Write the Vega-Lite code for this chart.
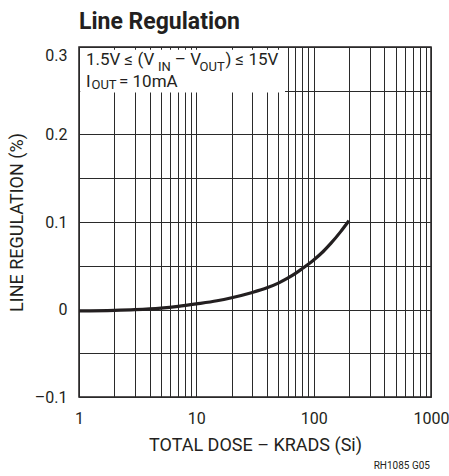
{
  "$schema": "https://vega.github.io/schema/vega-lite/v6.json",
  "autosize": "none",
  "width": 352,
  "height": 350,
  "padding": {"left": 79, "top": 47, "right": 18, "bottom": 79},
  "background": "white",
  "title": {
    "text": "Line Regulation",
    "anchor": "start",
    "frame": "group",
    "font": "Roboto",
    "fontSize": 23,
    "fontWeight": "bold",
    "color": "#231f20",
    "offset": 13
  },
  "config": {
    "view": {"stroke": "#231f20", "strokeWidth": 1.5},
    "font": "Roboto",
    "axis": {
      "domain": false,
      "ticks": false,
      "grid": true,
      "gridColor": "#2a2a2a",
      "gridWidth": 1,
      "labelFont": "Roboto",
      "labelFontSize": 16,
      "labelColor": "#231f20",
      "titleFont": "Roboto",
      "titleFontSize": 18,
      "titleFontWeight": "normal",
      "titleColor": "#231f20"
    }
  },
  "datasets": {
    "curve": [
      {"dose": 1, "reg": -0.0016},
      {"dose": 2, "reg": -0.001},
      {"dose": 3, "reg": -0.0002},
      {"dose": 5, "reg": 0.0016},
      {"dose": 7, "reg": 0.0036},
      {"dose": 10, "reg": 0.0064},
      {"dose": 15, "reg": 0.01},
      {"dose": 20, "reg": 0.0135},
      {"dose": 30, "reg": 0.0195},
      {"dose": 40, "reg": 0.0248},
      {"dose": 50, "reg": 0.0302},
      {"dose": 60, "reg": 0.0358},
      {"dose": 70, "reg": 0.0413},
      {"dose": 80, "reg": 0.0468},
      {"dose": 90, "reg": 0.0518},
      {"dose": 100, "reg": 0.0566},
      {"dose": 120, "reg": 0.066},
      {"dose": 140, "reg": 0.0755},
      {"dose": 170, "reg": 0.089},
      {"dose": 200, "reg": 0.1015}
    ],
    "box": [
      {"dose": 1.025, "dose2": 57, "reg": 0.248, "reg2": 0.2968}
    ],
    "main": [
      {"dose": 1.147, "reg": 0.2789, "label": "1.5V ≤ (V"},
      {"dose": 6.55, "reg": 0.2789, "label": "– V"},
      {"dose": 17.7, "reg": 0.2789, "label": ") ≤ 15V"},
      {"dose": 1.147, "reg": 0.2546, "label": "I"},
      {"dose": 2.193, "reg": 0.2546, "label": "= 10mA"}
    ],
    "sub": [
      {"dose": 4.72, "reg": 0.2726, "label": "IN"},
      {"dose": 10.65, "reg": 0.2726, "label": "OUT"},
      {"dose": 1.278, "reg": 0.2523, "label": "OUT"}
    ],
    "note": [
      {"dose": 980, "reg": -0.1826, "label": "RH1085 G05"}
    ]
  },
  "layer": [
    {
      "data": {"name": "curve"},
      "mark": {"type": "line", "interpolate": "monotone", "color": "#231f20", "strokeWidth": 3.2},
      "encoding": {
        "x": {
          "field": "dose", "type": "quantitative",
          "scale": {"type": "log", "domain": [1, 1000], "nice": false},
          "axis": {
            "title": "TOTAL DOSE – KRADS (Si)",
            "values": [1,2,3,4,5,6,7,8,9,10,20,30,40,50,60,70,80,90,100,200,300,400,500,600,700,800,900,1000],
            "labelExpr": "indexof([1,10,100,1000], datum.value) >= 0 ? format(datum.value, 'd') : ''",
            "labelPadding": 13,
            "labelBaseline": "top",
            "labelFlush": false,
            "labelOverlap": false,
            "titlePadding": 10
          }
        },
        "y": {
          "field": "reg", "type": "quantitative",
          "scale": {"domain": [-0.1, 0.3], "nice": false, "zero": false},
          "axis": {
            "title": "LINE REGULATION (%)",
            "values": [-0.1, -0.05, 0, 0.05, 0.1, 0.15, 0.2, 0.25, 0.3],
            "labelExpr": "round(datum.value*20) % 2 != 0 ? '' : (datum.value < 0 ? '–' + format(-datum.value, '.1f') : (datum.value == 0 ? '0' : format(datum.value, '.1f')))",
            "labelPadding": 12,
            "labelOverlap": false,
            "labelFlush": false,
            "labelBaseline": {"condition": {"test": "datum.value == 0.3", "value": "top"}, "value": "middle"},
            "titlePadding": 8
          }
        }
      }
    },
    {
      "data": {"name": "box"},
      "mark": {"type": "rect", "color": "white", "opacity": 1},
      "encoding": {
        "x": {"field": "dose", "type": "quantitative"},
        "x2": {"field": "dose2"},
        "y": {"field": "reg", "type": "quantitative"},
        "y2": {"field": "reg2"}
      }
    },
    {
      "data": {"name": "main"},
      "mark": {"type": "text", "align": "left", "baseline": "alphabetic", "fontSize": 17, "color": "#231f20", "font": "Roboto"},
      "encoding": {
        "x": {"field": "dose", "type": "quantitative"},
        "y": {"field": "reg", "type": "quantitative"},
        "text": {"field": "label"}
      }
    },
    {
      "data": {"name": "sub"},
      "mark": {"type": "text", "align": "left", "baseline": "alphabetic", "fontSize": 13, "color": "#231f20", "font": "Roboto"},
      "encoding": {
        "x": {"field": "dose", "type": "quantitative"},
        "y": {"field": "reg", "type": "quantitative"},
        "text": {"field": "label"}
      }
    },
    {
      "data": {"name": "note"},
      "mark": {"type": "text", "align": "right", "baseline": "alphabetic", "fontSize": 10, "color": "#231f20", "font": "Roboto", "clip": false},
      "encoding": {
        "x": {"field": "dose", "type": "quantitative"},
        "y": {"field": "reg", "type": "quantitative"},
        "text": {"field": "label"}
      }
    }
  ]
}
